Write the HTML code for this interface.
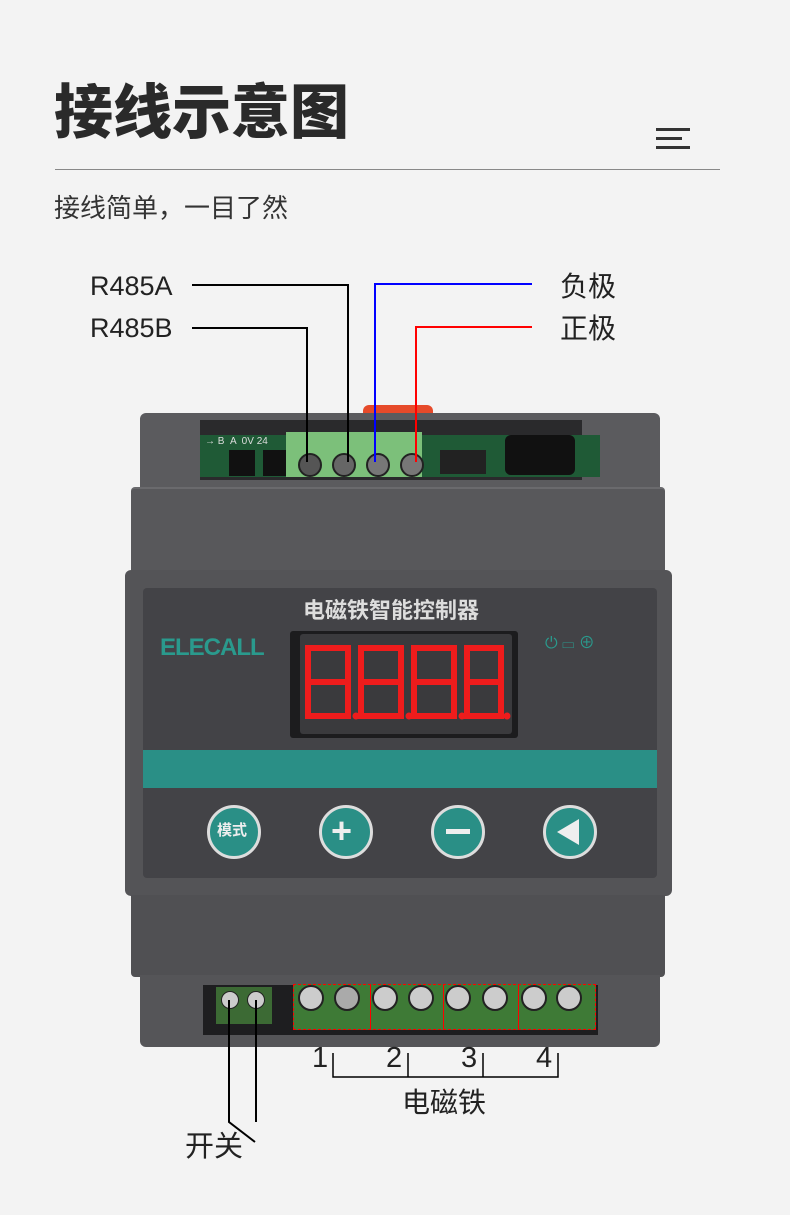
<!DOCTYPE html>
<html><head><meta charset="utf-8"><style>
*{margin:0;padding:0;box-sizing:border-box}
body{width:790px;height:1215px;background:#f3f3f3;position:relative;overflow:hidden;font-family:"Liberation Sans","Noto Sans CJK SC",sans-serif;color:#222}
.a{position:absolute}
.t{position:absolute;white-space:nowrap;line-height:1}
</style></head><body>
<div class="t" style="left:54px;top:84px;font-size:59px;font-weight:900;color:#2a2a2a">接线示意图</div>
<div class="a" style="left:656px;top:128px;width:34px;height:3px;background:#333"></div>
<div class="a" style="left:656px;top:137px;width:26px;height:3px;background:#333"></div>
<div class="a" style="left:656px;top:146px;width:34px;height:3px;background:#333"></div>
<div class="a" style="left:55px;top:169px;width:665px;height:1px;background:#888"></div>
<div class="t" style="left:54px;top:195px;font-size:26px;color:#333">接线简单，一目了然</div>
<div class="t" style="left:90px;top:273px;font-size:27px;color:#222">R485A</div>
<div class="t" style="left:90px;top:315px;font-size:27px;color:#222">R485B</div>
<div class="t" style="left:560px;top:273px;font-size:28px;color:#222">负极</div>
<div class="t" style="left:560px;top:315px;font-size:28px;color:#222">正极</div>

<div class="a" style="left:363px;top:405px;width:70px;height:22px;background:#e64a2a;border-radius:6px 6px 0 0"></div>
<div class="a" style="left:140px;top:413px;width:520px;height:80px;background:#5b5b5e;border-radius:6px 6px 0 0"></div>
<div class="a" style="left:200px;top:420px;width:382px;height:60px;background:#2a2a2c"></div>
<div class="a" style="left:200px;top:435px;width:400px;height:42px;background:#1f5a36"></div>
<div class="t" style="left:205px;top:437px;font-size:10px;color:#ddd">→ B &nbsp;A &nbsp;0V 24</div>
<div class="a" style="left:229px;top:450px;width:26px;height:26px;background:#111"></div>
<div class="a" style="left:263px;top:450px;width:24px;height:26px;background:#111"></div>
<div class="a" style="left:286px;top:432px;width:136px;height:45px;background:#7cc07a"></div>
<div class="a" style="left:298px;top:453px;width:24px;height:24px;border-radius:50%;background:#555;border:2px solid #222"></div>
<div class="a" style="left:332px;top:453px;width:24px;height:24px;border-radius:50%;background:#666;border:2px solid #222"></div>
<div class="a" style="left:366px;top:453px;width:24px;height:24px;border-radius:50%;background:#777;border:2px solid #222"></div>
<div class="a" style="left:400px;top:453px;width:24px;height:24px;border-radius:50%;background:#777;border:2px solid #222"></div>
<div class="a" style="left:440px;top:450px;width:46px;height:24px;background:#222"></div>
<div class="a" style="left:505px;top:435px;width:70px;height:40px;background:#111;border-radius:6px"></div>
<div class="a" style="left:131px;top:487px;width:534px;height:88px;background:#58585b;border-radius:4px;border-top:2px solid #6a6a6d"></div>

<div class="a" style="left:125px;top:570px;width:547px;height:326px;background:#545457;border-radius:6px"></div>
<div class="a" style="left:143px;top:588px;width:514px;height:290px;background:#434347;border-radius:4px"></div>
<div class="t" style="left:303px;top:600px;font-size:22px;font-weight:700;color:#ddd">电磁铁智能控制器</div>
<div class="t" style="left:160px;top:636px;font-size:24px;font-weight:700;color:#2a9a8d;letter-spacing:-1px">ELECALL</div>
<div class="t" style="left:545px;top:636px;font-size:16px;color:#2a9a8d">⏻ ▭ ⊕</div>
<div class="a" style="left:290px;top:631px;width:228px;height:107px;background:#1c1c1e;border-radius:3px"></div>
<div class="a" style="left:300px;top:634px;width:212px;height:100px;background:#3a3a3d;border-radius:3px"></div>
<svg class="a" style="left:300px;top:640px" width="215" height="90" viewBox="0 0 215 90">
<g fill="none" stroke="#ee1c1c" stroke-width="6">
<g transform="translate(8,8)"><rect x="0" y="0" width="40" height="68"/><line x1="0" y1="34" x2="40" y2="34"/></g>
<g transform="translate(61,8)"><rect x="0" y="0" width="40" height="68"/><line x1="0" y1="34" x2="40" y2="34"/></g>
<g transform="translate(114,8)"><rect x="0" y="0" width="40" height="68"/><line x1="0" y1="34" x2="40" y2="34"/></g>
<g transform="translate(167,8)"><rect x="0" y="0" width="34" height="68"/><line x1="0" y1="34" x2="34" y2="34"/></g>
</g>
<g fill="#ee1c1c"><circle cx="56" cy="76" r="3.5"/><circle cx="109" cy="76" r="3.5"/><circle cx="162" cy="76" r="3.5"/><circle cx="207" cy="76" r="3.5"/></g>
</svg>
<div class="a" style="left:143px;top:750px;width:514px;height:38px;background:#2a8f86"></div>
<div class="a" style="left:207px;top:805px;width:54px;height:54px;border-radius:50%;background:#2a8f86;border:3px solid #ddd"></div>
<div class="t" style="left:217px;top:823px;font-size:15px;font-weight:700;color:#eee">模式</div>
<div class="a" style="left:319px;top:805px;width:54px;height:54px;border-radius:50%;background:#2a8f86;border:3px solid #ddd"></div>
<div class="t" style="left:331px;top:813px;font-size:36px;font-weight:700;color:#eee">+</div>
<div class="a" style="left:431px;top:805px;width:54px;height:54px;border-radius:50%;background:#2a8f86;border:3px solid #ddd"></div>
<div class="a" style="left:446px;top:829px;width:24px;height:5px;background:#eee"></div>
<div class="a" style="left:543px;top:805px;width:54px;height:54px;border-radius:50%;background:#2a8f86;border:3px solid #ddd"></div>
<div class="a" style="left:557px;top:819px;width:0;height:0;border-top:13px solid transparent;border-bottom:13px solid transparent;border-right:22px solid #eee"></div>

<div class="a" style="left:131px;top:895px;width:534px;height:82px;background:#505053;border-radius:0 0 4px 4px"></div>
<div class="a" style="left:140px;top:975px;width:520px;height:72px;background:#555558;border-radius:0 0 6px 6px"></div>
<div class="a" style="left:203px;top:985px;width:395px;height:50px;background:#1e1e20"></div>
<div class="a" style="left:216px;top:987px;width:56px;height:37px;background:#3c6a34"></div>
<div class="a" style="left:221px;top:991px;width:18px;height:18px;border-radius:50%;background:#ccc;border:1px solid #222"></div>
<div class="a" style="left:247px;top:991px;width:18px;height:18px;border-radius:50%;background:#ccc;border:1px solid #222"></div>
<div class="a" style="left:293px;top:984px;width:303px;height:46px;background:#3e7a36;border:1px dashed #f00"></div>
<div class="a" style="left:370px;top:984px;width:1px;height:46px;background:#f00"></div>
<div class="a" style="left:443px;top:984px;width:1px;height:46px;background:#f00"></div>
<div class="a" style="left:518px;top:984px;width:1px;height:46px;background:#f00"></div>
<div class="a" style="left:298px;top:985px;width:26px;height:26px;border-radius:50%;background:#ccc;border:2px solid #222"></div>
<div class="a" style="left:334px;top:985px;width:26px;height:26px;border-radius:50%;background:#aaa;border:2px solid #222"></div>
<div class="a" style="left:372px;top:985px;width:26px;height:26px;border-radius:50%;background:#ccc;border:2px solid #222"></div>
<div class="a" style="left:408px;top:985px;width:26px;height:26px;border-radius:50%;background:#ccc;border:2px solid #222"></div>
<div class="a" style="left:445px;top:985px;width:26px;height:26px;border-radius:50%;background:#ccc;border:2px solid #222"></div>
<div class="a" style="left:482px;top:985px;width:26px;height:26px;border-radius:50%;background:#ccc;border:2px solid #222"></div>
<div class="a" style="left:521px;top:985px;width:26px;height:26px;border-radius:50%;background:#ccc;border:2px solid #222"></div>
<div class="a" style="left:556px;top:985px;width:26px;height:26px;border-radius:50%;background:#ccc;border:2px solid #222"></div>

<svg class="a" style="left:0;top:0" width="790" height="1215">
<g fill="none" stroke-width="2">
<polyline stroke="#000" points="192,285 348,285 348,462"/>
<polyline stroke="#000" points="192,328 307,328 307,462"/>
<polyline stroke="#00f" points="532,284 375,284 375,462"/>
<polyline stroke="#f00" points="532,327 416,327 416,462"/>
<polyline stroke="#000" points="229,1000 229,1122 255,1142"/>
<polyline stroke="#000" points="256,1000 256,1122"/>
<polyline stroke="#000" stroke-width="1.5" points="333,1053 333,1077 558,1077 558,1053"/>
<line stroke="#000" stroke-width="1.5" x1="408" y1="1053" x2="408" y2="1077"/>
<line stroke="#000" stroke-width="1.5" x1="483" y1="1053" x2="483" y2="1077"/>
</g>
</svg>
<div class="t" style="left:312px;top:1044px;font-size:29px">1</div>
<div class="t" style="left:386px;top:1044px;font-size:29px">2</div>
<div class="t" style="left:461px;top:1044px;font-size:29px">3</div>
<div class="t" style="left:536px;top:1044px;font-size:29px">4</div>
<div class="t" style="left:402px;top:1089px;font-size:28px">电磁铁</div>
<div class="t" style="left:185px;top:1133px;font-size:29px">开关</div>
</body></html>
